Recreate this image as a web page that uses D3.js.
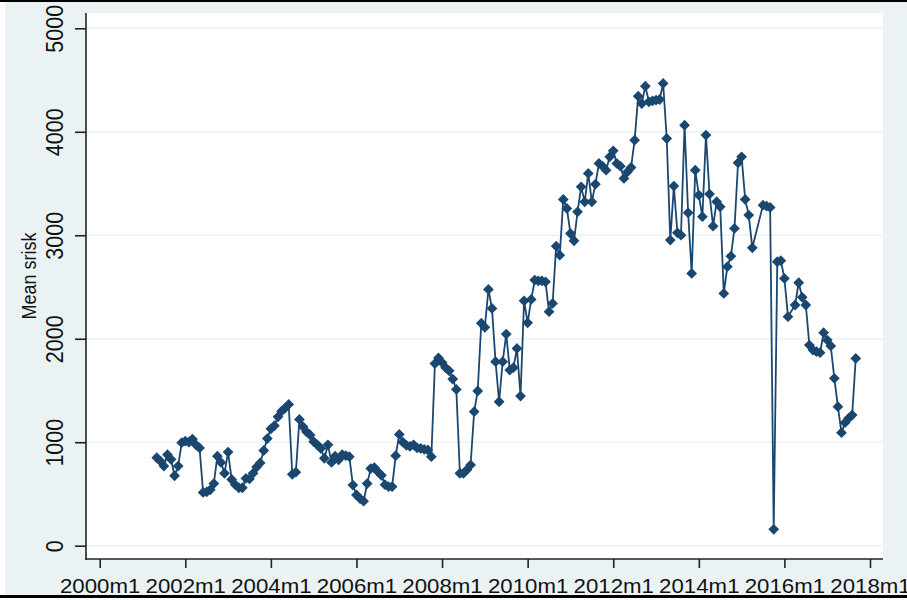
<!DOCTYPE html>
<html>
<head>
<meta charset="utf-8">
<script src="https://cdn.jsdelivr.net/npm/d3@7/dist/d3.min.js"></script>
<style>
  body { margin: 0; background: #ffffff; }
  svg { display: block; }
  text { font-family: "Liberation Sans", Arial, sans-serif; fill: #111; }
</style>
</head>
<body>
<svg id="chart" width="907" height="600"></svg>
<script>
// Monthly mean SRISK, first observation 2001m5 (month 16 counted from 2000m1).
// null marks months with no observation; the connecting line runs across them.
const firstMonth = 16;
const meanSrisk = [
  850, 818, 770, 880, 835, 676, 770, 995, 1010, 1000,
  1030, 975, 945, 515, 520, 540, 600, 865, 805, 700,
  905, 640, 590, 560, 560, 650, 645, 700, 760, 800,
  920, 1035, 1130, 1160, 1245, 1300, 1330, 1365, 690, 710,
  1220, 1150, 1100, 1070, 1005, 975, 940, 845, 975, 805,
  865, 830, 880, 870, 860, 586, 490, 455, 430, 600,
  745, 755, 715, 680, 590, 570, 570, 870, 1075, 1000,
  970, 960, 975, 945, 940, 930, 925, 860, 1760, 1815,
  1770, 1720, 1690, 1610, 1510, 700, 700, 735, 780, 1295,
  1495, 2150, 2110, 2476, 2293, 1778, 1391, 1778, 2045, 1697,
  1720, 1906, 1446, 2367, 2154, 2380, 2567, 2560, 2560, 2550,
  2261, 2341, 2895, 2808, 3346, 3259, 3017, 2947, 3227, 3468,
  3323, 3597, 3323, 3494, 3694, 3668, 3629, 3758, 3816, 3694,
  3668, 3549, 3613, 3655, 3919, 4344, 4273, 4441, 4290, 4299,
  4305, 4312, 4467, 3935, 2953, 3475, 3024, 3001, 4064, 3217,
  2631, 3629, 3388, 3179, 3968, 3398, 3088, 3324, 3275, 2438,
  2696, 2798, 3066, 3700, 3758, 3346, 3195, 2879, null, null,
  3291, 3282, 3269, 158, 2744, 2754, 2583, 2213, null, 2326,
  2541, 2400, 2326, 1939, 1891, 1875, 1865, 2058, 1987, 1930,
  1617, 1343, 1092, 1189, 1231, 1263, 1810
];

const xTickMonths = [0, 24, 48, 72, 96, 120, 144, 168, 192, 216];
const xTickLabels = ["2000m1", "2002m1", "2004m1", "2006m1", "2008m1",
                     "2010m1", "2012m1", "2014m1", "2016m1", "2018m1"];
const yTicks = [0, 1000, 2000, 3000, 4000, 5000];
const yTitle = "Mean srisk";

const navy = "#1a476f";
const bgColor = "#eaf2f3";

const svg = d3.select("#chart");

// Graph region and outer frame
svg.append("rect").attr("x", 5).attr("y", 0).attr("width", 902).attr("height", 596)
  .attr("fill", bgColor);
svg.append("rect").attr("x", 0).attr("y", 0).attr("width", 907).attr("height", 2)
  .attr("fill", "#000");
svg.append("rect").attr("x", 0).attr("y", 595).attr("width", 907).attr("height", 3)
  .attr("fill", "#000");

// Plot region
const plot = { left: 86, right: 883, top: 13, bottom: 559 };
svg.append("rect")
  .attr("x", plot.left).attr("y", plot.top)
  .attr("width", plot.right - plot.left).attr("height", plot.bottom - plot.top)
  .attr("fill", "#ffffff");

const x = d3.scaleLinear().domain([0, 216]).range([99.7, 870]);
const y = d3.scaleLinear().domain([0, 5000]).range([545.7, 28.3]);

// Horizontal grid lines
svg.append("g").selectAll("line").data(yTicks).join("line")
  .attr("x1", plot.left).attr("x2", plot.right)
  .attr("y1", d => y(d)).attr("y2", d => y(d))
  .attr("stroke", bgColor).attr("stroke-width", 1.6);

// Series
const points = meanSrisk
  .map((v, i) => ({ month: firstMonth + i, value: v }))
  .filter(d => d.value !== null);

const line = d3.line().x(d => x(d.month)).y(d => y(d.value));
svg.append("path").datum(points)
  .attr("d", line)
  .attr("fill", "none")
  .attr("stroke", navy)
  .attr("stroke-width", 1.8)
  .attr("stroke-linejoin", "round");

const diamond = d3.symbol().type(d3.symbolSquare).size(58);
svg.append("g").selectAll("path").data(points).join("path")
  .attr("d", diamond)
  .attr("transform", d => `translate(${x(d.month)},${y(d.value)}) rotate(45)`)
  .attr("fill", navy);

// Axes
const xAxis = d3.axisBottom(x)
  .tickValues(xTickMonths)
  .tickFormat((d, i) => xTickLabels[i])
  .tickSize(9).tickSizeOuter(0);
const gx = svg.append("g").attr("transform", `translate(0,${plot.bottom})`).call(xAxis);
gx.select(".domain").remove();
gx.selectAll(".tick line").attr("stroke", "#222").attr("stroke-width", 1.6);
gx.selectAll(".tick text")
  .attr("y", 0).attr("dy", 0)
  .attr("transform", "translate(0,34) scale(1.06,1)")
  .attr("font-size", 21)
  .attr("text-anchor", "middle");

const yAxis = d3.axisLeft(y).tickValues(yTicks).tickFormat(d3.format("d"))
  .tickSize(11).tickSizeOuter(0);
const gy = svg.append("g").attr("transform", `translate(${plot.left},0)`).call(yAxis);
gy.select(".domain").remove();
gy.selectAll(".tick line").attr("stroke", "#222").attr("stroke-width", 1.6);
gy.selectAll(".tick text")
  .attr("x", 0).attr("y", 0).attr("dy", 0)
  .attr("transform", "translate(-23,0) scale(1.08,1) rotate(-90)")
  .attr("font-size", 21.5)
  .attr("text-anchor", "middle");

svg.selectAll(".tick text").style("fill", "#111");

// Axis lines
svg.append("line")
  .attr("x1", plot.left).attr("x2", plot.left)
  .attr("y1", plot.top).attr("y2", plot.bottom + 0.8)
  .attr("stroke", "#222").attr("stroke-width", 1.6);
svg.append("line")
  .attr("x1", plot.left - 0.8).attr("x2", plot.right)
  .attr("y1", plot.bottom).attr("y2", plot.bottom)
  .attr("stroke", "#222").attr("stroke-width", 1.6);

// Y-axis title
svg.append("text")
  .attr("transform", "translate(36,276) scale(1.08,1) rotate(-90)")
  .attr("text-anchor", "middle")
  .attr("font-size", 18)
  .text(yTitle);
</script>
</body>
</html>
